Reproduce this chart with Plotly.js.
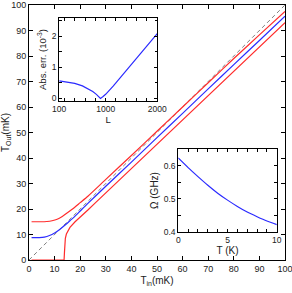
<!DOCTYPE html>
<html>
<head>
<meta charset="utf-8">
<script src="https://cdn.plot.ly/plotly-3.0.1.min.js"></script>
<style>html,body{margin:0;padding:0;background:#fff;}#chart{width:292px;height:293px;}</style>
</head>
<body>
<div id="chart"></div>
<script>
// Main panel: reference diagonal
const refT = [0, 100];
// Blue curve
const blueTin = [1, 4, 6, 8, 10, 12, 14, 16, 18, 20, 23, 30, 40, 50, 60, 70, 80, 90, 100];
const blueTout = [8.8, 8.8, 9.0, 9.6, 10.6, 12.0, 13.6, 15.4, 17.2, 19.2, 22.2, 28.9, 38.4, 48.0, 57.5, 67.1, 76.6, 86.1, 95.6];
// Upper red curve
const upTin = [1, 4, 7, 9, 11, 13, 15, 17, 20, 23, 30, 40, 50, 60, 70, 80, 90, 100];
const upTout = [15.0, 15.0, 15.1, 15.4, 16.0, 17.1, 18.5, 20.0, 22.5, 25.0, 31.6, 41.0, 50.5, 60.0, 69.5, 79.0, 88.3, 97.5];
// Lower red curve
const loTin = [1, 13.7, 13.85, 14.0, 14.2, 14.6, 15.2, 16, 18, 20, 23, 26, 30, 40, 50, 60, 70, 80, 90, 100];
const loTout = [0, 0, 3, 6, 8.5, 10.2, 11.6, 12.8, 15.0, 17.0, 19.6, 22.5, 26.3, 35.9, 45.5, 55.1, 64.6, 74.1, 83.6, 93.1];
// Inset 1: absolute error vs L
const insetL = [100, 250, 400, 550, 650, 750, 820, 880, 900, 950, 1000, 1150, 1300, 1450, 1600, 1750, 1900, 2000];
const absErr = [0.56, 0.53, 0.48, 0.40, 0.32, 0.22, 0.13, 0.04, 0.0, 0.06, 0.13, 0.40, 0.70, 0.99, 1.28, 1.57, 1.87, 2.08];
// Inset 2: Omega vs T
const insetT = [0, 1, 2, 3, 4, 5, 6, 7, 8, 9, 10];
const omega = [0.623, 0.594, 0.567, 0.541, 0.517, 0.496, 0.477, 0.460, 0.446, 0.433, 0.422];

const RED = '#ff2b2b', BLUE = '#2b2bff';
const traces = [
  {x: refT, y: refT, mode: 'lines', line: {color: '#808080', width: 1, dash: '4px,3px'}, xaxis: 'x', yaxis: 'y'},
  {x: upTin, y: upTout, mode: 'lines', line: {color: RED, width: 1.2, shape: 'spline', smoothing: 0.6}, xaxis: 'x', yaxis: 'y'},
  {x: loTin, y: loTout, mode: 'lines', line: {color: RED, width: 1.2}, xaxis: 'x', yaxis: 'y'},
  {x: blueTin, y: blueTout, mode: 'lines', line: {color: BLUE, width: 1.2, shape: 'spline', smoothing: 0.6}, xaxis: 'x', yaxis: 'y'},
  {x: insetL, y: absErr, mode: 'lines', line: {color: BLUE, width: 1.2}, xaxis: 'x2', yaxis: 'y2'},
  {x: insetT, y: omega, mode: 'lines', line: {color: BLUE, width: 1.2, shape: 'spline', smoothing: 0.6}, xaxis: 'x3', yaxis: 'y3'}
];

const FONT = 'Liberation Sans, Arial, sans-serif';
const baseAx = {
  showline: true, mirror: 'ticks', linecolor: '#000', linewidth: 1,
  ticks: 'inside', tickcolor: '#000', tickwidth: 1, showgrid: false, zeroline: false,
  fixedrange: true, ticklabeloverflow: 'allow'
};

const layout = {
  width: 292, height: 293,
  margin: {l: 29, r: 7, t: 5, b: 33},
  paper_bgcolor: '#fff', plot_bgcolor: '#fff',
  showlegend: false,
  font: {family: FONT, size: 9, color: '#222'},
  xaxis: Object.assign({}, baseAx, {
    domain: [0, 1], anchor: 'y', range: [0, 100], tick0: 0, dtick: 10, ticklen: 4,
    tickfont: {size: 9}, title: {text: 'T<sub>in</sub>(mK)', font: {size: 10}, standoff: 4}
  }),
  yaxis: Object.assign({}, baseAx, {
    domain: [0, 1], anchor: 'x', range: [0, 100], tick0: 0, dtick: 10, ticklen: 4,
    tickfont: {size: 9}, title: {text: 'T<sub>Out</sub>(mK)', font: {size: 10}, standoff: 2}
  }),
  xaxis2: Object.assign({}, baseAx, {
    domain: [0.118, 0.501], anchor: 'y2', range: [100, 2000], tickmode: 'array', tickvals: [100, 1000, 2000],
    ticklen: 3, tickfont: {size: 8.5}, minor: {tick0: 0, dtick: 200, ticklen: 2.5, ticks: 'inside', tickcolor: '#000'},
    title: {text: 'L', font: {size: 9.5}, standoff: 3}
  }),
  yaxis2: Object.assign({}, baseAx, {
    domain: [0.624, 0.948], anchor: 'x2', range: [-0.08, 2.57], tickmode: 'array', tickvals: [0, 1, 2],
    ticklen: 3, tickfont: {size: 8.5}, minor: {tick0: 0, dtick: 0.5, ticklen: 2.5, ticks: 'inside', tickcolor: '#000'},
    title: {text: 'Abs. err. (10<sup>-3</sup>)', font: {size: 9.5}, standoff: 3}
  }),
  xaxis3: Object.assign({}, baseAx, {
    domain: [0.583, 0.968], anchor: 'y3', range: [0, 10], tickmode: 'array', tickvals: [0, 5, 10],
    ticklen: 3, tickfont: {size: 8.5}, minor: {tick0: 0, dtick: 1, ticklen: 2.5, ticks: 'inside', tickcolor: '#000'},
    title: {text: 'T (K)', font: {size: 10}, standoff: 0}
  }),
  yaxis3: Object.assign({}, baseAx, {
    domain: [0.110, 0.435], anchor: 'x3', range: [0.4, 0.65], tickmode: 'array', tickvals: [0.4, 0.5, 0.6],
    ticklen: 3, tickfont: {size: 8.5}, minor: {tick0: 0.4, dtick: 0.05, ticklen: 2.5, ticks: 'inside', tickcolor: '#000'},
    title: {text: 'Ω (GHz)', font: {size: 10}, standoff: 3}
  })
};

Plotly.newPlot('chart', traces, layout, {staticPlot: true, displayModeBar: false});
</script>
</body>
</html>
